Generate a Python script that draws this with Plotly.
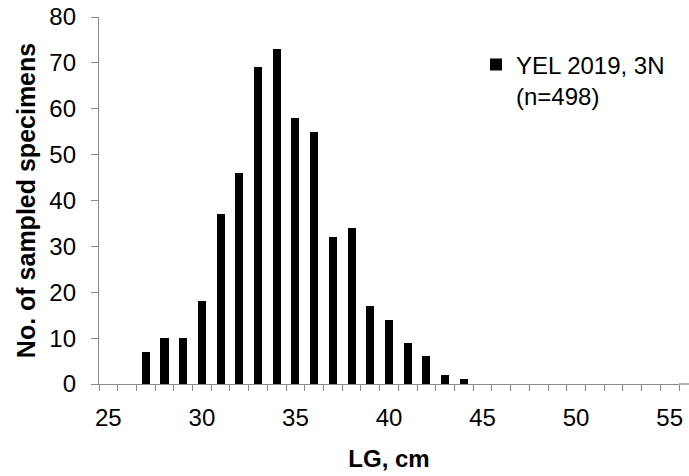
import plotly.graph_objects as go

lengths = [27, 28, 29, 30, 31, 32, 33, 34, 35, 36, 37, 38, 39, 40, 41, 42, 43, 44]
counts = [7, 10, 10, 18, 37, 46, 69, 73, 58, 55, 32, 34, 17, 14, 9, 6, 2, 1]
x_tick_vals = [25, 30, 35, 40, 45, 50, 55]
y_tick_vals = [0, 10, 20, 30, 40, 50, 60, 70, 80]
series_name = "YEL 2019, 3N<br>(n=498)"

FONT = "Liberation Sans, Arial, sans-serif"
AXIS_COLOR = "#898989"
FS = 24

fig = go.Figure()
fig.add_trace(go.Bar(
    x=lengths, y=counts, name=series_name,
    marker=dict(color="black", line=dict(width=0)),
    width=0.43, showlegend=True,
))

fig.update_layout(
    width=689, height=476,
    margin=dict(l=99, r=10, t=17, b=92, autoexpand=False),
    paper_bgcolor="white", plot_bgcolor="white",
    font=dict(family=FONT, size=FS, color="black"),
    bargap=0,
    legend=dict(
        x=0.650, y=0.931, xanchor="left", yanchor="top",
        bgcolor="rgba(0,0,0,0)", borderwidth=0,
        font=dict(family=FONT, size=FS, color="black"),
        valign="top", itemwidth=30,
    ),
    xaxis=dict(
        automargin=False,
        range=[24.5, 55.5],
        tickmode="array", tickvals=x_tick_vals,
        ticktext=[str(v) for v in x_tick_vals],
        ticks="outside", ticklen=6, tickcolor="rgba(0,0,0,0)",
        ticklabelstandoff=6,
        showline=True, linecolor=AXIS_COLOR, linewidth=1.3,
        showgrid=False, zeroline=False,
        minor=dict(ticks="outside", tick0=24.5, dtick=1, ticklen=6,
                   tickcolor=AXIS_COLOR, tickwidth=1.3, showgrid=False),
        title=dict(text="<b>LG, cm</b>", font=dict(family=FONT, size=FS), standoff=20),
        tickfont=dict(family=FONT, size=FS),
    ),
    yaxis=dict(
        automargin=False,
        range=[0, 80],
        tickmode="array", tickvals=y_tick_vals,
        ticks="outside", ticklen=7, tickcolor=AXIS_COLOR, tickwidth=1.3,
        ticklabelstandoff=10,
        showline=True, linecolor=AXIS_COLOR, linewidth=1.3,
        showgrid=False, zeroline=False,
        title=dict(text="<b>No. of sampled specimens</b>", font=dict(family=FONT, size=25), standoff=6),
        tickfont=dict(family=FONT, size=FS),
    ),
    shapes=[dict(type="line", xref="paper", yref="paper", x0=1, x1=1.02, y0=0, y1=0,
                 line=dict(color=AXIS_COLOR, width=1.3))],
)

fig.write_html("out.html", config={"displayModeBar": False},
               post_script="document.body.style.margin='0';")
